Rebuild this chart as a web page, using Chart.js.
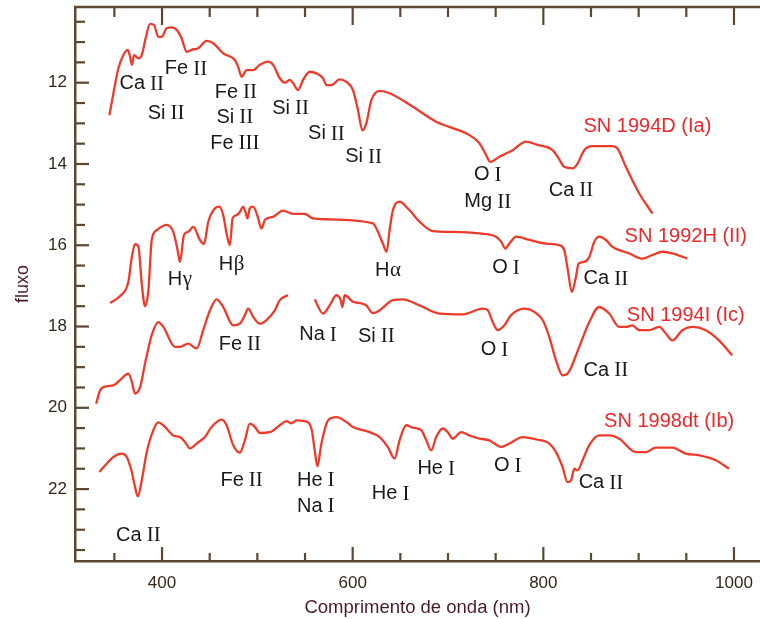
<!DOCTYPE html>
<html><head><meta charset="utf-8">
<script src="https://cdn.jsdelivr.net/npm/chart.js@4.4.0/dist/chart.umd.min.js"></script>
<style>html,body{margin:0;padding:0;background:#fff}#wrap{width:760px;height:619px}</style>
</head><body><div id="wrap"><canvas id="c" width="760" height="619"></canvas></div>
<script>
// ---- data (wavelength in nm, flux in arbitrary offset units) ----
const sn1994D_wl = [344.8,349.0,354.2,359.5,364.1,366.5,368.3,370.7,375.2,378.7,383.2,387.4,391.6,396.1,399.7,404.9,410.2,415.4,420.6,425.9,431.1,438.0,446.8,453.7,464.2,476.4,479.9,483.5,488.7,495.6,502.6,511.3,516.5,523.6,528.8,534.0,537.5,542.7,548.0,555.0,562.0,568.9,572.5,577.7,586.4,593.4,600.3,605.5,610.2,614.3,619.6,628.3,638.7,663.1,687.6,722.5,733.0,740.0,744.2,753.9,767.9,781.9,794.0,809.7,815.0,822.0,830.7,835.9,842.9,851.6,872.6,877.8,886.6,900.5,914.5];
const sn1994D_flux = [12.80,12.26,11.65,11.32,11.19,11.36,11.56,11.32,11.40,11.32,10.87,10.55,10.58,10.87,10.87,10.66,10.64,10.70,10.91,11.24,11.19,11.15,10.97,11.03,11.28,11.44,11.61,11.85,11.69,11.69,11.56,11.48,11.56,11.89,12.00,11.93,12.01,12.18,11.93,11.73,11.77,11.89,12.06,12.06,11.92,11.98,12.18,12.67,13.17,13.00,12.43,12.20,12.26,12.59,12.96,13.29,13.49,13.78,13.95,13.82,13.66,13.45,13.53,13.66,13.82,14.07,14.11,13.99,13.66,13.56,13.56,13.62,14.07,14.72,15.22];

const sn1992H_wl = [345.6,356.0,364.7,368.3,371.7,375.2,378.7,382.2,385.7,389.2,394.5,404.9,411.8,416.0,418.8,423.0,427.5,432.8,439.8,444.0,448.5,453.7,460.0,464.2,467.7,471.2,474.0,478.2,481.7,485.1,488.0,489.7,492.1,495.6,499.8,504.4,507.9,516.5,527.0,537.5,549.7,558.4,572.5,621.3,626.5,631.7,635.6,638.7,642.2,649.2,659.7,670.1,684.1,705.0,733.0,750.5,755.7,760.2,764.4,771.4,785.3,802.8,816.7,822.0,825.4,830.0,834.2,837.0,842.9,848.2,853.4,858.6,865.6,872.6,879.6,890.0,904.0,914.5,924.9,935.4,951.1];
const sn1992H_flux = [17.42,17.25,16.90,16.29,15.97,16.03,16.94,17.50,17.11,15.87,15.63,15.50,15.67,16.08,16.41,15.75,15.67,15.55,15.87,15.97,15.42,15.14,15.05,15.26,15.71,16.00,15.34,15.26,15.18,15.05,15.22,15.34,15.09,15.05,15.26,15.59,15.38,15.30,15.15,15.23,15.23,15.34,15.36,15.46,15.67,15.96,16.16,15.63,15.14,14.93,15.14,15.42,15.65,15.67,15.71,15.79,15.91,16.08,15.96,15.79,15.87,15.96,16.00,16.12,16.57,17.15,16.78,16.45,16.41,16.29,15.92,15.79,15.87,16.04,16.12,16.20,16.33,16.24,16.16,16.20,16.33];

const sn1994I_wl = [330.9,335.1,342.1,349.0,356.0,364.7,368.3,371.7,377.0,382.2,389.2,396.1,401.4,413.6,418.8,427.5,436.3,443.2,450.3,457.3,464.2,474.7,481.7,486.9,490.4,495.6,502.6,509.6,518.3,523.6,532.2,546,560.2,568.9,575.9,582.9,587.4,589.2,591.6,600.3,609.1,614.3,621.3,628.3,642.2,652.7,670.1,691.1,715.5,736.4,741.7,746.9,752.1,759.2,766.2,780.1,790.6,799.3,806.3,813.3,820.2,825.4,837.7,848.2,858.6,869.1,879.6,886.6,893.5,900.5,911.0,921.5,928.5,935.4,945.9,956.3,970.4,984.3,998.2];
const sn1994I_flux = [19.90,19.57,19.47,19.45,19.32,19.16,19.36,19.65,19.49,18.91,18.21,17.89,18.01,18.50,18.50,18.42,18.54,18.09,17.60,17.33,17.52,17.97,17.93,17.72,17.56,17.76,17.93,17.84,17.60,17.35,17.23,null,17.33,17.68,17.48,17.23,17.35,17.52,17.23,17.39,17.43,17.48,17.67,17.60,17.35,17.33,17.48,17.68,17.70,17.56,17.60,17.89,18.09,17.97,17.72,17.56,17.64,17.84,18.26,18.83,19.20,19.16,18.50,17.89,17.52,17.68,18.01,18.01,17.97,18.09,18.09,18.01,18.17,18.34,18.09,18.01,18.09,18.34,18.71];

const sn1998dt_wl = [334.3,342.1,349.0,357.8,363.0,368.3,371.7,374.6,378.7,384.0,390.9,396.1,403.1,411.8,418.8,424.1,429.3,436.3,445.0,452.0,462.5,467.7,474.7,481.7,486.9,492.1,497.4,502.6,513.1,523.6,530.6,535.8,541.0,549.7,556.7,560.2,563.0,567.2,574.1,582.9,593.4,600.3,617.8,628.3,637.0,644.0,649.2,656.2,663.1,671.9,677.2,682.4,687.6,694.5,699.8,705.0,713.8,722.5,733.0,743.4,748.7,755.7,764.4,778.3,792.4,806.3,813.3,820.2,825.4,829.0,832.5,835.9,841.2,848.2,858.6,869.1,879.6,897.1,907.5,918.0,935.4,949.4,963.9,980.8,994.8];
const sn1998dt_flux = [21.58,21.37,21.21,21.13,21.21,21.58,21.95,22.18,21.79,21.09,20.55,20.36,20.47,20.68,20.72,20.84,21.00,20.88,20.72,20.47,20.29,20.43,20.92,21.10,20.80,20.39,20.47,20.62,20.60,20.43,20.33,20.38,20.31,20.33,20.51,21.05,21.44,20.88,20.31,20.23,20.35,20.47,20.60,20.72,20.97,21.25,20.80,20.43,20.49,20.55,20.80,21.05,20.72,20.51,20.60,20.76,20.60,20.68,20.76,20.80,20.88,20.96,20.88,20.72,20.78,20.88,21.09,21.46,21.83,21.79,21.50,21.54,21.29,20.92,20.68,20.68,20.76,21.09,21.09,20.98,20.98,21.13,21.17,21.29,21.50];

// series names and where they are written (data coords)
const seriesNames = ["SN 1994D (Ia)", "SN 1992H (II)", "SN 1994I (Ic)", "SN 1998dt (Ib)"];
const seriesNameX = [909.2, 949.4, 949.4, 932.0];
const seriesNameY = [13.08, 15.79, 17.72, 20.33];

// spectral line identifications (data coords)
const lineLabels = ["Ca II","Fe II","Si II","Fe II","Si II","Fe III","Si II","Si II","Si II","O I","Mg II","Ca II",
  "Hγ","Hβ","Hα","O I","Ca II",
  "Fe II","Na I","Si II","O I","Ca II",
  "Ca II","Fe II","He I","Na I","He I","He I","O I","Ca II"];
const lineLabelX = [378.7,425.1,404.2,477.5,476.4,476.4,534.8,572.5,611.5,741.7,741.7,829.0,
  418.8,473.0,637.0,760.9,865.6,
  481.7,563.7,624.8,748.7,865.6,
  375.2,483.5,561.3,561.3,639.8,687.6,762.6,860.4];
const lineLabelY = [12.03,11.66,12.75,12.24,12.85,13.49,12.63,13.25,13.82,14.27,14.93,14.64,
  16.84,16.47,16.61,16.55,16.82,
  18.44,18.20,18.24,18.57,19.08,
  23.14,21.78,21.78,22.42,22.11,21.50,21.42,21.85];

// axis tick settings
const xTickStep = 50, xLabelEvery = 200;
const yTickStep = 0.5, yLabelEvery = 2;

const RED = '#eb3b2a';
const AXIS = '#5a4830';
const TICKTXT = '#33281a';
const TITLE = '#4a1b2a';
const SANS = '"Liberation Sans", Arial, Helvetica, sans-serif';
const SERIF = '"Liberation Serif", "Times New Roman", serif';

function pts(wl, fl) { return wl.map((w, i) => ({ x: w, y: fl[i] })); }

const datasets = [
  pts(sn1994D_wl, sn1994D_flux),
  pts(sn1992H_wl, sn1992H_flux),
  pts(sn1994I_wl, sn1994I_flux),
  pts(sn1998dt_wl, sn1998dt_flux)
].map((d, i) => ({
  label: seriesNames[i], data: d, borderColor: RED, borderWidth: 2.3,
  pointRadius: 0, fill: false, cubicInterpolationMode: 'monotone', spanGaps: false
}));

const isMult = (v, m) => Math.abs(v / m - Math.round(v / m)) < 1e-6;

const framePlugin = {
  id: 'frame',
  afterDraw(chart) {
    const { ctx, chartArea: a, scales: { x, y } } = chart;
    ctx.save();
    ctx.strokeStyle = AXIS;
    ctx.lineCap = 'butt';
    ctx.lineWidth = 2.5;
    ctx.beginPath(); ctx.moveTo(a.left - 1, a.top); ctx.lineTo(a.right, a.top); ctx.stroke();
    ctx.lineWidth = 2.2;
    y.ticks.forEach(t => {
      const p = y.getPixelForValue(t.value);
      const len = isMult(t.value, yLabelEvery) ? 14 : 10;
      ctx.beginPath(); ctx.moveTo(a.left, p); ctx.lineTo(a.left + len, p); ctx.stroke();
    });
    x.ticks.forEach(t => {
      const p = x.getPixelForValue(t.value);
      const major = isMult(t.value, xLabelEvery);
      ctx.beginPath(); ctx.moveTo(p, a.bottom); ctx.lineTo(p, a.bottom - (major ? 14 : 8)); ctx.stroke();
      ctx.beginPath(); ctx.moveTo(p, a.top); ctx.lineTo(p, a.top + (major ? 18 : 10)); ctx.stroke();
    });
    ctx.restore();
  }
};

const labelPlugin = {
  id: 'lineLabels',
  afterDatasetsDraw(chart) {
    const { ctx, scales: { x, y } } = chart;
    ctx.save();
    ctx.textBaseline = 'middle';
    ctx.textAlign = 'left';
    const fSans = '20px ' + SANS, fSerif = '21px ' + SERIF;
    lineLabels.forEach((lab, i) => {
      let el, num, gap;
      const sp = lab.indexOf(' ');
      if (sp >= 0) { el = lab.slice(0, sp); num = lab.slice(sp + 1); gap = 5; }
      else { el = lab.slice(0, 1); num = lab.slice(1); gap = 0.5; }
      ctx.font = fSans; const w1 = ctx.measureText(el).width;
      ctx.font = fSerif; const w2 = ctx.measureText(num).width;
      const cx = x.getPixelForValue(lineLabelX[i]);
      const cy = y.getPixelForValue(lineLabelY[i]);
      const x0 = cx - (w1 + gap + w2) / 2;
      ctx.fillStyle = '#1c1a16';
      ctx.font = fSans; ctx.fillText(el, x0, cy);
      ctx.font = fSerif; ctx.fillText(num, x0 + w1 + gap, cy + 0.5);
    });
    ctx.fillStyle = '#e8292a';
    ctx.textAlign = 'center';
    ctx.font = '20px ' + SANS;
    seriesNames.forEach((n, i) => {
      ctx.fillText(n, x.getPixelForValue(seriesNameX[i]), y.getPixelForValue(seriesNameY[i]));
    });
    ctx.restore();
  }
};

new Chart(document.getElementById('c'), {
  type: 'line',
  data: { datasets },
  options: {
    responsive: false, animation: false, devicePixelRatio: 1,
    layout: { padding: { top: 7, right: 0, left: 0, bottom: 0 } },
    plugins: { legend: { display: false }, tooltip: { enabled: false } },
    scales: {
      x: {
        type: 'linear', min: 308.7, max: 1027.3,
        grid: { display: false, drawTicks: false },
        border: { display: true, color: AXIS, width: 2.5 },
        ticks: {
          stepSize: xTickStep, includeBounds: false, autoSkip: false, maxRotation: 0,
          padding: 12, color: TICKTXT, font: { family: SANS, size: 17 },
          callback: v => isMult(v, xLabelEvery) ? String(v) : ''
        },
        title: { display: true, text: 'Comprimento de onda (nm)', color: TITLE,
          font: { family: SANS, size: 18.5 }, padding: { top: 0, bottom: 0 } },
        afterFit(s) { s.height = 58; s.paddingLeft = 0; s.paddingRight = 0; }
      },
      y: {
        type: 'linear', reverse: true, min: 10.137, max: 23.77,
        grid: { display: false, drawTicks: false },
        border: { display: true, color: AXIS, width: 2.5 },
        ticks: {
          stepSize: yTickStep, includeBounds: false, autoSkip: false,
          padding: 8, color: TICKTXT, font: { family: SANS, size: 17 },
          callback: v => isMult(v, yLabelEvery) ? String(v) : ''
        },
        title: { display: true, text: 'fluxo', color: TITLE,
          font: { family: SANS, size: 18 }, padding: { top: 12, bottom: 0 } },
        afterFit(s) { s.width = 75; s.paddingTop = 0; s.paddingBottom = 0; }
      }
    }
  },
  plugins: [framePlugin, labelPlugin]
});
</script></body></html>
